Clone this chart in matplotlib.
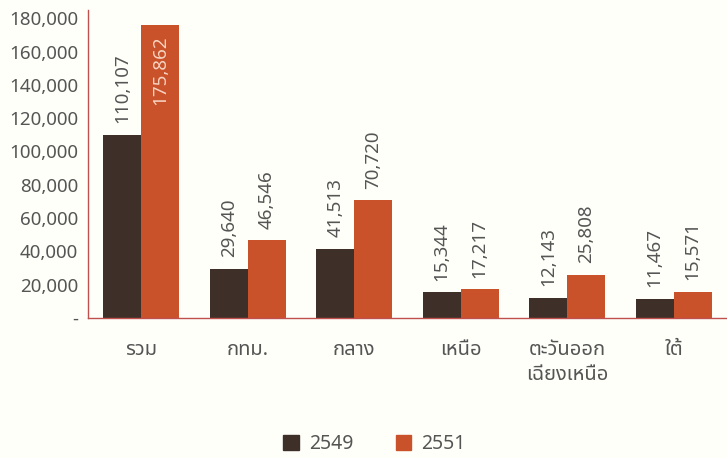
import matplotlib
matplotlib.use("Agg")
import matplotlib.pyplot as plt
from matplotlib.patches import Patch
import numpy as np

plt.rcParams['font.family'] = ['Noto Sans', 'Noto Sans Thai', 'DejaVu Sans']

regions = ["รวม", "กทม.", "กลาง", "เหนือ", "ตะวันออก\nเฉียงเหนือ", "ใต้"]
val_2549 = [110107, 29640, 41513, 15344, 12143, 11467]
val_2551 = [175862, 46546, 70720, 17217, 25808, 15571]
yticks = [0, 20000, 40000, 60000, 80000, 100000, 120000, 140000, 160000, 180000]
ytick_labels = ["-", "20,000", "40,000", "60,000", "80,000", "100,000",
                "120,000", "140,000", "160,000", "180,000"]

DARK = "#3e3029"
ORANGE = "#c9522b"
AXIS = "#c0504d"
GREY = "#555555"
BG = "#fffffa"

fig = plt.figure(figsize=(7.27, 4.58), dpi=100, facecolor=BG)
ax = fig.add_axes([0.121, 0.306, 0.879, 0.672])
ax.set_facecolor(BG)

x = np.arange(len(regions))
w = 0.357
b1 = ax.bar(x - w / 2, val_2549, w, color=DARK)
b2 = ax.bar(x + w / 2, val_2551, w, color=ORANGE)

ax.set_xlim(-0.5, len(regions) - 0.5)
ax.set_ylim(0, 185000)

# value labels, rotated
for bars, vals in [(b1, val_2549), (b2, val_2551)]:
    for bar, v in zip(bars, vals):
        cx = bar.get_x() + bar.get_width() / 2
        if v > 170000:
            ax.text(cx, v - 6000, f"{v:,}", rotation=90, ha="center", va="top",
                    fontsize=13.5, color="#f6d2c0")
        else:
            ax.text(cx, v + 7000, f"{v:,}", rotation=90, ha="center", va="bottom",
                    fontsize=13.5, color=GREY)

ax.set_yticks(yticks)
ax.set_yticklabels(ytick_labels)
ax.set_xticks(x)
ax.set_xticklabels(regions, linespacing=1.3)
ax.tick_params(axis="both", length=0, colors=GREY)
ax.tick_params(axis="y", pad=7, labelsize=13.5)
ax.tick_params(axis="x", pad=16, labelsize=14.5)

for s in ["top", "right"]:
    ax.spines[s].set_visible(False)
ax.spines["left"].set_color(AXIS)
ax.spines["bottom"].set_color(AXIS)
ax.spines["left"].set_linewidth(1)
ax.spines["bottom"].set_linewidth(1)

handles = [Patch(color=DARK, label="2549"), Patch(color=ORANGE, label="2551")]
leg = fig.legend(handles=handles, loc="center", bbox_to_anchor=(0.515, 0.03), ncol=2,
                 frameon=False, fontsize=14, handlelength=0.8, handleheight=0.8,
                 columnspacing=2.2, handletextpad=0.5)
for t in leg.get_texts():
    t.set_color(GREY)

fig.savefig("out.png", facecolor=BG)
